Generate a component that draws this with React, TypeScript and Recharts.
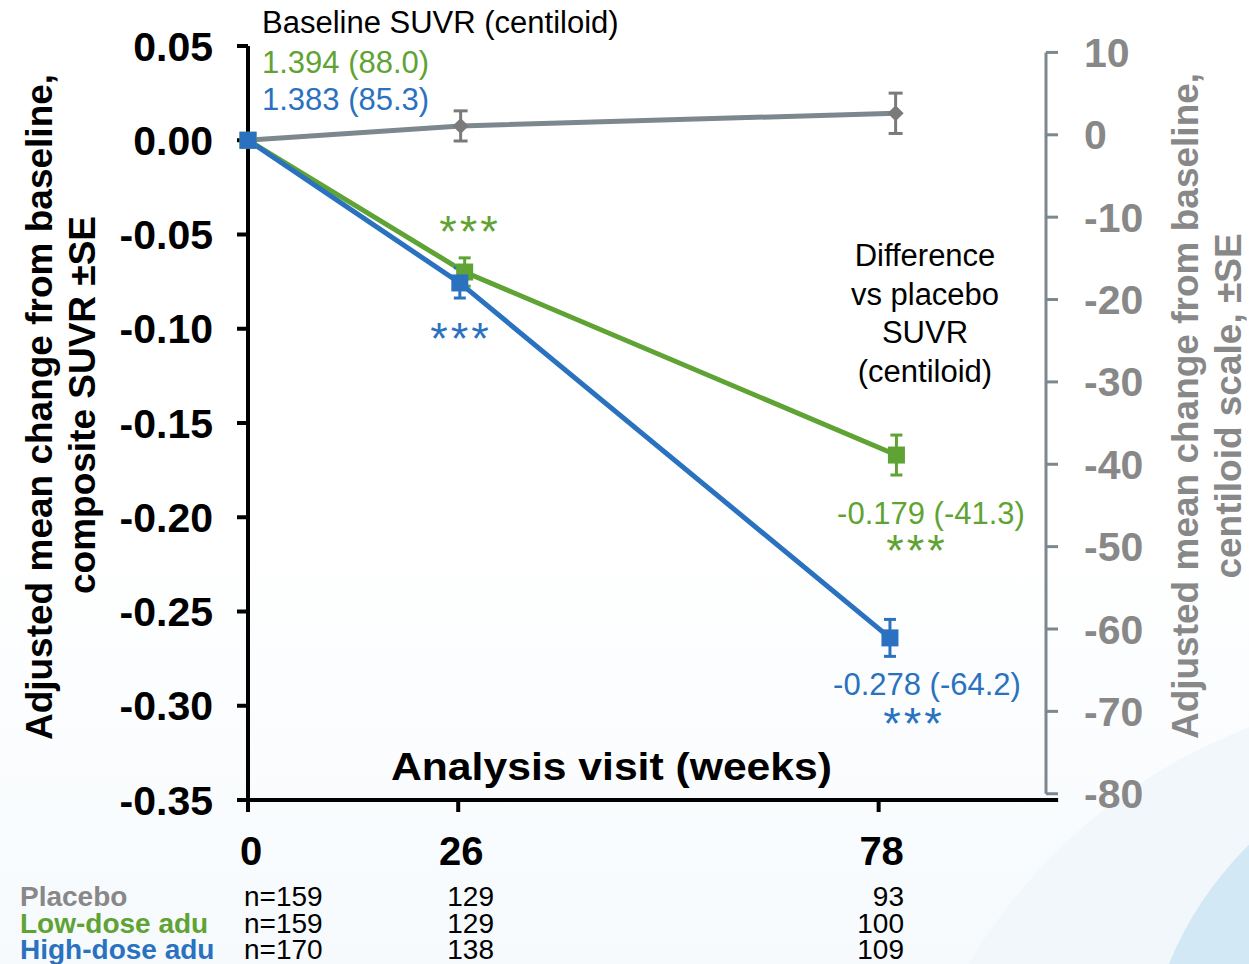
import React from 'react';
import { LineChart, Line, XAxis, YAxis, ErrorBar, ReferenceLine, Customized } from 'recharts';

const FONT = "'Liberation Sans', Arial, Helvetica, sans-serif";
const GREEN = '#5fa334';
const BLUE = '#2a72c0';
const GRAY_LINE = '#7d878e';
const GRAY_DOT = '#7a7a7a';
const GRAY_TEXT = '#888888';

const weekTicks = [0, 26, 78];
const leftTicks = [0.05, 0, -0.05, -0.1, -0.15, -0.2, -0.25, -0.3, -0.35];
const rightTicks = [10, 0, -10, -20, -30, -40, -50, -60, -70, -80];

// points are nudged a little sideways in the original, so each arm keeps its own x
const placeboWeeks = [0, 26.3, 80.1];
const placeboMean = [0, 0.0076, 0.0143];
const placeboSe = [0, 0.008, 0.0107];

const lowWeeks = [0, 26.8, 80.2];
const lowMean = [0, -0.0699, -0.167];
const lowSe = [0, 0.0075, 0.0106];

const highWeeks = [0, 26.2, 79.4];
const highMean = [0, -0.0757, -0.264];
const highSe = [0, 0.008, 0.0098];

const groups = ['Placebo', 'Low-dose adu', 'High-dose adu'];
const placeboN = [159, 129, 93];
const lowN = [159, 129, 100];
const highN = [170, 138, 109];

const baselineLow = '1.394 (88.0)';
const baselineHigh = '1.383 (85.3)';
const diffLow = '-0.179 (-41.3)';
const diffHigh = '-0.278 (-64.2)';
const diffTitle = ['Difference', 'vs placebo', 'SUVR', '(centiloid)'];

const toRows = (weeks: number[], mean: number[], se: number[]) =>
  weeks.map((w, i) => ({ week: w, mean: mean[i], se: se[i] }));

const placeboData = toRows(placeboWeeks, placeboMean, placeboSe);
const lowData = toRows(lowWeeks, lowMean, lowSe);
const highData = toRows(highWeeks, highMean, highSe);

const squareDot = (color: string) => (props: any) => {
  const { cx, cy, index } = props;
  if (cx == null || cy == null) return <g key={index} />;
  return <rect key={index} x={cx - 8.5} y={cy - 8.5} width={17} height={17} fill={color} />;
};

const diamondDot = (props: any) => {
  const { cx, cy, index } = props;
  if (cx == null || cy == null) return <g key={index} />;
  return (
    <path
      key={index}
      d={`M${cx},${cy - 8} L${cx + 8},${cy} L${cx},${cy + 8} L${cx - 8},${cy} Z`}
      fill={GRAY_DOT}
    />
  );
};

const Stars = ({ x, y, color }: { x: number; y: number; color: string }) => (
  <text x={x} y={y} textAnchor="middle" fontSize={45} letterSpacing={3} fill={color}>
    ***
  </text>
);

const Annotations = () => {
  const rows = [placeboN, lowN, highN];
  const rowColors = [GRAY_TEXT, GREEN, BLUE];
  const rowBase = [906, 933, 959];
  return (
    <g fontFamily={FONT}>
      {/* axis titles */}
      <g fontWeight={700} fontSize={37} textAnchor="middle">
        <text transform="rotate(-90)" x={-407} y={52} fill="#000">
          Adjusted mean change from baseline,
        </text>
        <text transform="rotate(-90)" x={-405} y={95} fill="#000">
          composite SUVR ±SE
        </text>
        <text transform="rotate(-90)" x={-406} y={1198} fill={GRAY_TEXT}>
          Adjusted mean change from baseline,
        </text>
        <text transform="rotate(-90)" x={-406} y={1241} fill={GRAY_TEXT}>
          centiloid scale, ±SE
        </text>
      </g>
      <text x={391} y={780} fontSize={39} fontWeight={700} fill="#000" textLength={441} lengthAdjust="spacingAndGlyphs">
        Analysis visit (weeks)
      </text>

      {/* baseline values */}
      <text x={262} y={33} fontSize={31} fill="#000">Baseline SUVR (centiloid)</text>
      <text x={262} y={73} fontSize={31} fill={GREEN}>{baselineLow}</text>
      <text x={262} y={110} fontSize={31} fill={BLUE}>{baselineHigh}</text>

      {/* difference vs placebo */}
      {diffTitle.map((t, i) => (
        <text key={t} x={925} y={266 + i * 38.7} fontSize={31} textAnchor="middle" fill="#000">
          {t}
        </text>
      ))}
      <text x={931} y={524} fontSize={31} textAnchor="middle" fill={GREEN}>{diffLow}</text>
      <text x={927} y={695} fontSize={31} textAnchor="middle" fill={BLUE}>{diffHigh}</text>

      <Stars x={470} y={247} color={GREEN} />
      <Stars x={461} y={354} color={BLUE} />
      <Stars x={917} y={566} color={GREEN} />
      <Stars x={914} y={739} color={BLUE} />

      {/* numbers at risk */}
      {groups.map((g, r) => (
        <g key={g}>
          <text x={20} y={rowBase[r]} fontSize={28} fontWeight={700} fill={rowColors[r]}>{g}</text>
          <text x={244} y={rowBase[r]} fontSize={28} fill="#000">n={rows[r][0]}</text>
          <text x={494} y={rowBase[r]} fontSize={28} textAnchor="end" fill="#000">{rows[r][1]}</text>
          <text x={904} y={rowBase[r]} fontSize={28} textAnchor="end" fill="#000">{rows[r][2]}</text>
        </g>
      ))}
    </g>
  );
};

export default function App() {
  return (
    <div
      style={{
        position: 'absolute',
        left: 0,
        top: 0,
        width: 1249,
        height: 964,
        overflow: 'hidden',
        background: 'linear-gradient(to bottom, #ffffff 55%, #f6fafd)',
      }}
    >
      <div style={{ position: 'absolute', left: 890, top: 690, width: 1120, height: 1120, borderRadius: '50%', background: '#f1f7fb' }} />
      <div style={{ position: 'absolute', left: 1142, top: 742, width: 716, height: 716, borderRadius: '50%', background: '#d3e8f5' }} />
      <div style={{ position: 'absolute', left: 0, top: 0 }}>
        <LineChart width={1249} height={964} margin={{ top: 46, right: 0, bottom: 0, left: 0 }}>
          <XAxis
            type="number"
            dataKey="week"
            domain={[0, 98.7]}
            ticks={weekTicks}
            height={164}
            tickSize={12}
            tickMargin={25}
            axisLine={{ stroke: '#000', strokeWidth: 4 }}
            tickLine={{ stroke: '#000', strokeWidth: 4 }}
            tick={{ fill: '#000', fontSize: 40, fontWeight: 700, fontFamily: FONT, dx: 3 }}
          />
          <YAxis
            yAxisId="left"
            domain={[-0.35, 0.05]}
            ticks={leftTicks}
            width={248}
            tickSize={11}
            tickMargin={24}
            tickFormatter={(v: number) => v.toFixed(2)}
            axisLine={{ stroke: '#000', strokeWidth: 4 }}
            tickLine={{ stroke: '#000', strokeWidth: 4 }}
            tick={{ fill: '#000', fontSize: 41, fontWeight: 700, fontFamily: FONT }}
          />
          <YAxis
            yAxisId="right"
            orientation="right"
            type="number"
            domain={[-80.76, 10.78]}
            allowDataOverflow
            ticks={rightTicks}
            width={203}
            tickSize={12}
            tickMargin={26}
            axisLine={false}
            tickLine={{ stroke: GRAY_LINE, strokeWidth: 3 }}
            tick={{ fill: GRAY_TEXT, fontSize: 41, fontWeight: 700, fontFamily: FONT }}
          />
          <ReferenceLine
            yAxisId="right"
            segment={[{ x: 98.7, y: -80 }, { x: 98.7, y: 10 }]}
            stroke={GRAY_LINE}
            strokeWidth={3}
            ifOverflow="visible"
          />
          <ReferenceLine
            yAxisId="left"
            segment={[{ x: 98.5, y: -0.35 }, { x: 100.2, y: -0.35 }]}
            stroke="#000"
            strokeWidth={4}
            ifOverflow="visible"
          />

          <Line
            yAxisId="left"
            data={placeboData}
            dataKey="mean"
            type="linear"
            stroke={GRAY_LINE}
            strokeWidth={5}
            dot={diamondDot}
            activeDot={false}
            isAnimationActive={false}
          >
            <ErrorBar dataKey="se" direction="y" width={7} stroke={GRAY_DOT} strokeWidth={3} />
          </Line>
          <Line
            yAxisId="left"
            data={lowData}
            dataKey="mean"
            type="linear"
            stroke={GREEN}
            strokeWidth={5}
            dot={squareDot(GREEN)}
            activeDot={false}
            isAnimationActive={false}
          >
            <ErrorBar dataKey="se" direction="y" width={6} stroke={GREEN} strokeWidth={3} />
          </Line>
          <Line
            yAxisId="left"
            data={highData}
            dataKey="mean"
            type="linear"
            stroke={BLUE}
            strokeWidth={5}
            dot={squareDot(BLUE)}
            activeDot={false}
            isAnimationActive={false}
          >
            <ErrorBar dataKey="se" direction="y" width={6} stroke={BLUE} strokeWidth={3} />
          </Line>

          <Customized component={Annotations} />
        </LineChart>
      </div>
    </div>
  );
}
